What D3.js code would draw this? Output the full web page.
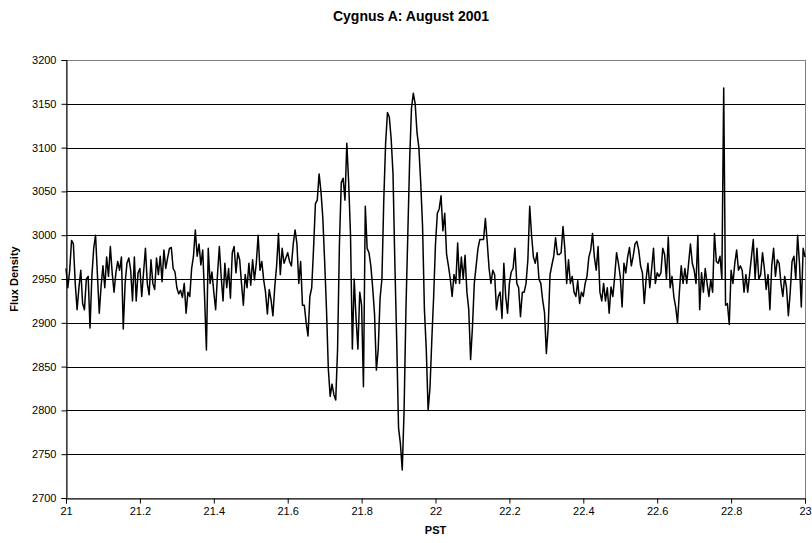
<!DOCTYPE html>
<html>
<head>
<meta charset="utf-8">
<script src="https://cdn.jsdelivr.net/npm/d3@7/dist/d3.min.js"></script>
<style>
  html, body { margin: 0; padding: 0; background: #fff; }
  svg { display: block; }
  text { font-family: Arial, "Liberation Sans", sans-serif; fill: #000; }
</style>
</head>
<body>
<svg id="chart" width="812" height="543"></svg>
<script>
// Sampling grid of the radio scan (PST hours)
const pstStart = 21;
const pstStep = 0.005;

// Flux density readings, 40 per 0.2 h block
const fluxBlock0 = [2962,2940,2960,2994,2990,2945,2915,2940,2960,2922,2915,2950,2953,2894,2953,2985,3000,2955,2911,2942,2965,2940,2975,2953,2987,2957,2935,2957,2970,2960,2975,2893,2945,2968,2974,2960,2925,2975,2925,2957];
const fluxBlock1 = [2962,2930,2958,2985,2945,2932,2972,2945,2938,2974,2955,2976,2947,2983,2962,2974,2985,2986,2962,2958,2940,2933,2937,2929,2945,2911,2935,2930,2962,2976,3006,2976,2990,2966,2983,2930,2869,2985,2945,2958];
const fluxBlock2 = [2935,2915,2955,2987,2953,2925,2968,2940,2962,2928,2980,2987,2957,2980,2972,2945,2920,2955,2940,2968,2943,2972,2949,2968,3000,2960,2970,2949,2935,2910,2938,2926,2908,2941,2965,3002,2955,2985,2968,2974];
const fluxBlock3 = [2980,2970,2965,2990,3006,2990,2945,2970,2920,2920,2900,2885,2930,2940,2985,3036,3040,3070,3050,3020,2970,2915,2847,2816,2830,2818,2812,2870,2990,3060,3065,3040,3105,3060,3000,2870,2950,2905,2870,2935];
const fluxBlock4 = [2920,2827,3033,2985,2980,2965,2940,2910,2846,2870,2928,2950,3040,3105,3140,3135,3110,3070,2968,2880,2780,2762,2732,2800,2915,3000,3085,3145,3162,3150,3117,3100,3060,3010,2915,2870,2800,2825,2880,2930];
const fluxBlock5 = [2990,3025,3030,3045,3005,3025,2978,2965,2950,2930,2955,2945,2991,2945,2975,2950,2977,2935,2915,2858,2895,2945,2965,2985,2995,2995,2995,3019,2992,2962,2945,2960,2955,2915,2930,2935,2905,2968,2930,2911];
const fluxBlock6 = [2945,2958,2962,2985,2945,2940,2907,2935,2935,2945,2972,3033,3000,2975,2968,2980,2950,2945,2926,2912,2865,2895,2955,2966,2976,2997,2978,2978,2980,3010,2985,2945,2972,2945,2953,2935,2930,2948,2922,2935];
const fluxBlock7 = [2930,2945,2953,2975,2983,3002,2975,2960,2987,2935,2925,2945,2925,2940,2911,2941,2930,2953,2980,2968,2953,2918,2968,2957,2975,2986,2965,2976,2990,2993,2983,2965,2957,2922,2950,2968,2940,2962,2985,2945];
const fluxBlock8 = [2957,2953,2957,2985,2978,2950,2998,2940,2953,2930,2918,2900,2935,2965,2945,2962,2945,2968,2990,2968,2960,2945,3000,2915,2957,2935,2962,2945,2930,2949,2935,3002,2970,2968,2976,2950,3168,2920,2922,2898];
const fluxBlock9 = [2960,2945,2968,2983,2960,2965,2960,2935,2955,2935,2955,2975,2995,2950,2985,2950,2955,2980,2962,2938,2955,2915,2965,2985,2953,2972,2968,2945,2930,2953,2940,2908,2935,2970,2976,2950,3000,2968,2918,2985,2975];

const flux = [].concat(fluxBlock0, fluxBlock1, fluxBlock2, fluxBlock3, fluxBlock4,
                       fluxBlock5, fluxBlock6, fluxBlock7, fluxBlock8, fluxBlock9);

// Axis ticks
const xTicks = [21, 21.2, 21.4, 21.6, 21.8, 22, 22.2, 22.4, 22.6, 22.8, 23];
const yTicks = [2700, 2750, 2800, 2850, 2900, 2950, 3000, 3050, 3100, 3150, 3200];

const titleText = "Cygnus A: August 2001";
const xLabel = "PST";
const yLabel = "Flux Density";

const points = flux.map((v, i) => ({ t: pstStart + i * pstStep, v }));

const plot = { left: 66, right: 805, top: 60, bottom: 498 };

const svg = d3.select("#chart");

const x = d3.scaleLinear().domain([21, 23]).range([plot.left, plot.right]);
const y = d3.scaleLinear().domain([2700, 3200]).range([plot.bottom, plot.top]);

// Plot area frame (grey)
svg.append("rect")
  .attr("x", plot.left + 0.5)
  .attr("y", plot.top + 0.5)
  .attr("width", plot.right - plot.left)
  .attr("height", plot.bottom - plot.top)
  .attr("fill", "#fff")
  .attr("stroke", "#808080")
  .attr("stroke-width", 1);

// Horizontal gridlines
svg.append("g")
  .selectAll("line")
  .data(yTicks.filter(d => d > 2700 && d < 3200))
  .join("line")
  .attr("x1", plot.left)
  .attr("x2", plot.right)
  .attr("y1", d => Math.round(y(d)) + 0.5)
  .attr("y2", d => Math.round(y(d)) + 0.5)
  .attr("stroke", "#000")
  .attr("stroke-width", 1);

// Flux trace
const line = d3.line()
  .x(d => x(d.t))
  .y(d => y(d.v));

svg.append("path")
  .datum(points)
  .attr("fill", "none")
  .attr("stroke", "#000")
  .attr("stroke-width", 1.5)
  .attr("stroke-linejoin", "round")
  .attr("d", line);

// Y axis
const yAxis = d3.axisLeft(y)
  .tickValues(yTicks)
  .tickSize(5)
  .tickPadding(5)
  .tickFormat(d3.format("d"));

const gy = svg.append("g")
  .attr("transform", `translate(${plot.left + 0.5},0)`)
  .call(yAxis);
gy.select(".domain").attr("stroke", "#000");
gy.selectAll(".tick line").attr("stroke", "#000");
gy.selectAll(".tick text").attr("font-size", 11).attr("font-family", "Arial, 'Liberation Sans', sans-serif");

// X axis
const xAxis = d3.axisBottom(x)
  .tickValues(xTicks)
  .tickSize(5)
  .tickPadding(4)
  .tickFormat(d => String(+d.toFixed(1)));

const gx = svg.append("g")
  .attr("transform", `translate(0,${plot.bottom + 0.5})`)
  .call(xAxis);
gx.select(".domain").attr("stroke", "#000");
gx.selectAll(".tick line").attr("stroke", "#000");
gx.selectAll(".tick text").attr("font-size", 11).attr("font-family", "Arial, 'Liberation Sans', sans-serif");

// Title
svg.append("text")
  .attr("x", 411)
  .attr("y", 21)
  .attr("text-anchor", "middle")
  .attr("font-size", 14)
  .attr("font-weight", "bold")
  .text(titleText);

// Axis titles
svg.append("text")
  .attr("x", (plot.left + plot.right) / 2)
  .attr("y", 534)
  .attr("text-anchor", "middle")
  .attr("font-size", 11)
  .attr("font-weight", "bold")
  .text(xLabel);

svg.append("text")
  .attr("transform", `translate(18,${(plot.top + plot.bottom) / 2}) rotate(-90)`)
  .attr("text-anchor", "middle")
  .attr("font-size", 11)
  .attr("font-weight", "bold")
  .text(yLabel);
</script>
</body>
</html>
